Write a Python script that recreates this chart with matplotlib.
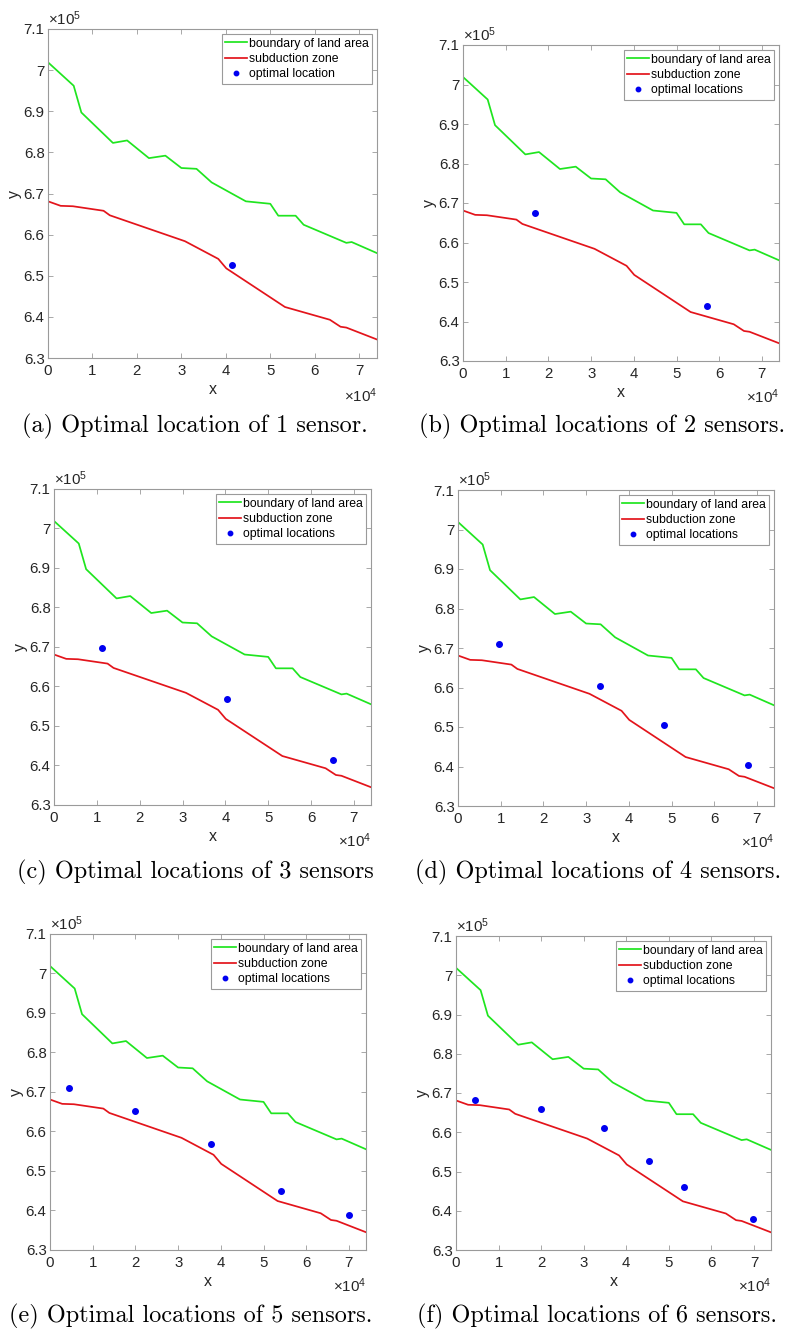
import matplotlib
matplotlib.use("Agg")
import matplotlib.pyplot as plt
from matplotlib.ticker import FuncFormatter, FixedLocator

plt.rcParams['font.family'] = ['Liberation Sans', 'DejaVu Sans']
plt.rcParams['mathtext.fontset'] = 'custom'
plt.rcParams['mathtext.rm'] = 'Liberation Sans'
plt.rcParams['mathtext.it'] = 'Liberation Sans'

# ---- data (raw units: metres) ----
land_x = [0, 5780, 7500, 14600, 17800, 22700, 26400, 30000, 33400, 36800,
          44500, 50000, 51800, 55700, 57500, 67100, 68300, 74000]
land_y = [701900, 696200, 689700, 682300, 682900, 678600, 679200, 676200,
          676000, 672700, 668100, 667500, 664600, 664600, 662400, 658000,
          658200, 655500]

sub_x = [0, 2850, 5600, 12500, 13900, 30800, 38300, 40100, 53300, 63400,
         65800, 67100, 74000]
sub_y = [668100, 667000, 666900, 665800, 664700, 658400, 654100, 651800,
         642400, 639300, 637600, 637400, 634500]

opt_x = [
    [41300],
    [16800, 57100],
    [11100, 40300, 65100],
    [9500, 33200, 48300, 68000],
    [4500, 19900, 37800, 54200, 70000],
    [4400, 20000, 34700, 45300, 53500, 69800],
]
opt_y = [
    [652500],
    [667500, 644000],
    [669800, 656900, 641400],
    [670900, 660300, 650600, 640300],
    [670900, 665100, 656900, 645000, 638800],
    [668200, 665900, 661200, 652700, 646100, 638000],
]
opt_labels = ['optimal location'] + ['optimal locations'] * 5

captions = [
    '(a) Optimal location of 1 sensor.',
    '(b) Optimal locations of 2 sensors.',
    '(c) Optimal locations of 3 sensors',
    '(d) Optimal locations of 4 sensors.',
    '(e) Optimal locations of 5 sensors.',
    '(f) Optimal locations of 6 sensors.',
]

x_ticks = [0, 10000, 20000, 30000, 40000, 50000, 60000, 70000]
y_ticks = [630000, 640000, 650000, 660000, 670000, 680000, 690000, 700000, 710000]

# ---- layout (pixel boxes: left, right, top, bottom) ----
W, H = 787, 1329
boxes = [
    (48, 377, 29, 358),
    (463, 779, 45, 361),
    (54, 371, 489, 805),
    (458, 774, 490, 806),
    (50, 366, 934, 1250),
    (456, 771, 936, 1250),
]
cap_pos = [(195, 426), (602, 426), (195, 872), (598, 872), (191, 1316), (597, 1316)]

fig = plt.figure(figsize=(W / 100, H / 100), dpi=100)

GREEN = '#1fe51f'
RED = '#e3141b'
BLUE = '#0000f0'
SPINE = '#9a9a9a'
TXT = '#262626'

for i in range(6):
    l, r, t, b = boxes[i]
    ax = fig.add_axes([l / W, 1 - b / H, (r - l) / W, (b - t) / H])
    ax.plot(land_x, land_y, color=GREEN, lw=1.25, label='boundary of land area')
    ax.plot(sub_x, sub_y, color=RED, lw=1.25, label='subduction zone')
    ax.plot(opt_x[i], opt_y[i], linestyle='none', marker='o', ms=4.0,
            color=BLUE, label=opt_labels[i])
    ax.set_xlim(0, 74000)
    ax.set_ylim(630000, 710000)
    ax.xaxis.set_major_locator(FixedLocator(x_ticks))
    ax.yaxis.set_major_locator(FixedLocator(y_ticks))
    ax.xaxis.set_major_formatter(FuncFormatter(lambda v, p: f'{v / 1e4:g}'))
    ax.yaxis.set_major_formatter(FuncFormatter(lambda v, p: f'{v / 1e5:g}'))
    ax.tick_params(direction='in', length=3.5, width=0.6, color=SPINE,
                   labelsize=10.8, labelcolor=TXT, top=True, right=True)
    ax.tick_params(axis='x', pad=4.5)
    ax.tick_params(axis='y', pad=2.5)
    for s in ax.spines.values():
        s.set_color(SPINE)
        s.set_linewidth(0.8)
    ax.set_xlabel('x', fontsize=11.5, color=TXT, labelpad=2.5)
    ax.set_ylabel('y', fontsize=11.5, color=TXT, labelpad=1)
    ax.text(1.0, -0.085, r'$\times10^{4}$', transform=ax.transAxes,
            ha='right', va='top', fontsize=10.8, color=TXT)
    ax.text(0.0, 1.003, r'$\times10^{5}$', transform=ax.transAxes,
            ha='left', va='bottom', fontsize=10.8, color=TXT)
    leg = ax.legend(loc='upper right', fontsize=8.8, frameon=True, fancybox=False,
                    edgecolor=SPINE, framealpha=1, borderaxespad=0.4,
                    borderpad=0.3, handlelength=1.75, handletextpad=0.15,
                    labelspacing=0.28, markerscale=0.8)
    leg.get_frame().set_linewidth(0.8)

    cx, cy = cap_pos[i]
    fig.text(cx / W, 1 - cy / H, captions[i], family='cmr10', fontsize=17.5,
             ha='center', va='center', color='black')

fig.savefig('out.png', dpi=100)
